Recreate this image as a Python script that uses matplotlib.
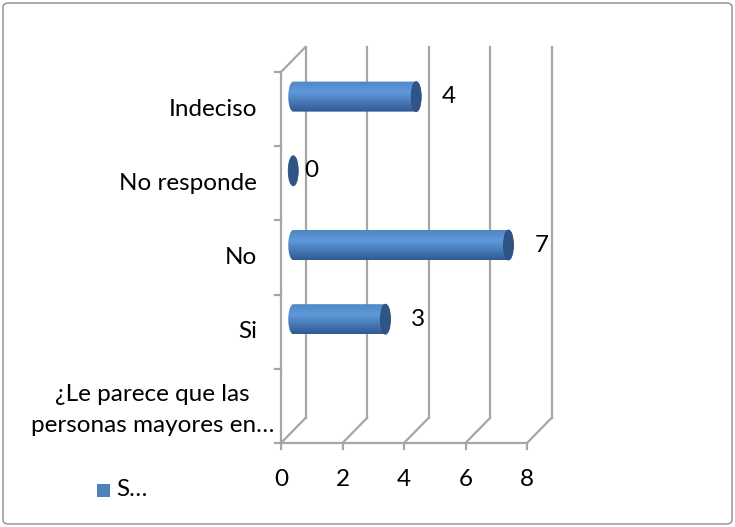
import numpy as np
import matplotlib.pyplot as plt
from matplotlib.patches import Rectangle, Ellipse, FancyBboxPatch
from matplotlib.path import Path
from matplotlib.patches import PathPatch

plt.rcParams['font.family'] = ['Lato', 'DejaVu Sans']

# data, bottom to top
categories = ['¿Le parece que las\npersonas mayores en…', 'Si', 'No', 'No responde', 'Indeciso']
values = [None, 3, 7, 0, 4]
x_ticks = [0, 2, 4, 6, 8]
legend_label = 'S…'

W, H = 735, 527
fig = plt.figure(figsize=(W / 100, H / 100), dpi=100)

# plot region in pixels: front origin at (281, 443)
px_unit = 30.75      # pixels per x unit
px_cat = 74.2        # pixels per category
x0_px, y0_px = 281, 443
right_px, top_px = 565, 50
ax = fig.add_axes([x0_px / W, (H - y0_px) / H, (right_px - x0_px) / W, (y0_px - top_px) / H])
ax.axis('off')

dx, dy = 24.5 / px_unit, 25 / px_cat   # depth offset (back wall)
ncat = len(categories)
xmax = x_ticks[-1]
grid_c = '#a6a6a6'
lw = 1.6
fs = 17.5

# back wall vertical gridlines + floor diagonals
for t in x_ticks:
    ax.plot([t + dx, t + dx], [dy, ncat + dy], color=grid_c, lw=lw, clip_on=False)
    ax.plot([t, t + dx], [0, dy], color=grid_c, lw=lw, clip_on=False)
# left wall front edge and top
ax.plot([0, 0], [0, ncat], color=grid_c, lw=lw, clip_on=False)
ax.plot([0, dx], [ncat, ncat + dy], color=grid_c, lw=lw, clip_on=False)
# floor front edge
ax.plot([0, xmax], [0, 0], color=grid_c, lw=lw, clip_on=False)
# ticks
tick_x = 6 / px_unit
tick_y = 6 / px_cat
for t in x_ticks:
    ax.plot([t, t], [0, -tick_y], color=grid_c, lw=lw, clip_on=False)
    ax.text(t, -37 / px_cat, str(t), ha='center', va='center', fontsize=fs)
for i in range(ncat + 1):
    ax.plot([-tick_x, 0], [i, i], color=grid_c, lw=lw, clip_on=False)
for i, c in enumerate(categories):
    if '\n' in c:
        ax.text(-7 / px_unit, i + 0.5 - 4 / px_cat, c, ha='right', va='center', fontsize=fs,
                multialignment='center', linespacing=1.62)
    else:
        ax.text(-24 / px_unit, i + 0.5, c, ha='right', va='center', fontsize=fs)

# cylinder bars at mid depth
bar_h = 30 / px_cat
cap_w = 10 / px_unit
mx, my = dx / 2, dy / 2
top_c = np.array([0.37, 0.60, 0.86])
bot_c = np.array([0.19, 0.35, 0.57])
t = np.linspace(0, 1, 100)
shade = np.where(t < 0.35, 0.7 + 0.3 * t / 0.35, 1.0 - (t - 0.35) / 0.65)
img = np.zeros((100, 1, 3))
for k in range(3):
    img[:, 0, k] = bot_c[k] + (top_c[k] - bot_c[k]) * shade
for i, v in enumerate(values):
    if v is None:
        continue
    yc = i + 0.5 + my
    xs = mx
    xe = v + mx
    if v > 0:
        th = np.linspace(np.pi / 2, 3 * np.pi / 2, 30)
        left = [(xs + cap_w / 2 * np.cos(a), yc + bar_h / 2 * np.sin(a)) for a in th]
        verts = [(xe, yc + bar_h / 2)] + left + [(xe, yc - bar_h / 2), (xe, yc + bar_h / 2)]
        body = PathPatch(Path(verts, closed=True), facecolor='none', edgecolor='none')
        ax.add_patch(body)
        im = ax.imshow(img, extent=[xs - cap_w / 2, xe, yc - bar_h / 2, yc + bar_h / 2],
                       aspect='auto', origin='upper', zorder=3)
        im.set_clip_path(body)
        lx = xe + 33 / px_unit
    else:
        lx = xe + 18 / px_unit
    ax.add_patch(Ellipse((xe, yc), cap_w, bar_h, facecolor='#2f5587',
                         edgecolor='#2a4d7a', lw=0.6, zorder=4))
    ax.text(lx, yc, str(v), ha='center', va='center', fontsize=fs)

ax.set_xlim(0, (right_px - x0_px) / px_unit)
ax.set_ylim(0, (y0_px - top_px) / px_cat)

# legend
fig.patches.append(Rectangle((97 / W, (H - 497) / H), 13 / W, 13 / H,
                             transform=fig.transFigure, facecolor='#4f81bd',
                             edgecolor='none'))
fig.text(116 / W, (H - 490) / H, legend_label, ha='left', va='center', fontsize=fs)

# outer border
fig.patches.append(FancyBboxPatch((3 / W, 3 / H), (W - 6) / W, (H - 6) / H,
                                  boxstyle='round,pad=0,rounding_size=0.008',
                                  transform=fig.transFigure, facecolor='none',
                                  edgecolor='#8c8c8c', lw=1))

fig.savefig('out.png', dpi=100)
